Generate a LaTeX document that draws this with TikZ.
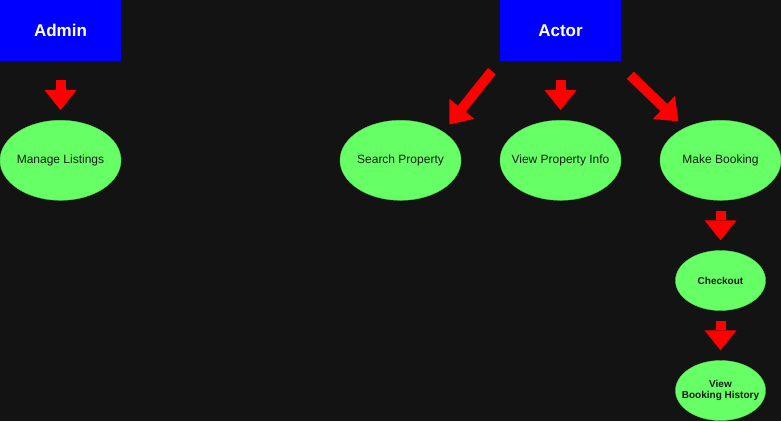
\documentclass[tikz,border=0pt]{standalone}
\usepackage{fontspec}
\setmainfont{Liberation Sans}
\usetikzlibrary{shapes.geometric,arrows.meta}
\definecolor{bg}{HTML}{131313}
\definecolor{boxblue}{HTML}{0000FF}
\definecolor{ellgreen}{HTML}{66FF66}
\definecolor{arrred}{HTML}{FF0000}
\definecolor{txtdark}{HTML}{1A1A1A}
\tikzset{
  actorbox/.style={rectangle, fill=boxblue, draw=none, minimum width=121pt, minimum height=61pt, inner sep=0pt,
    text=white, font=\fontsize{17}{20}\selectfont\bfseries},
  bigtext/.style={text=txtdark, font=\fontsize{12}{14}\selectfont, inner sep=0pt},
  smalltext/.style={text=txtdark, font=\fontsize{10}{11.7}\selectfont\bfseries, align=center, inner sep=0pt},
  bigcase/.style={ellipse, fill=ellgreen, draw=ellgreen!85!black, line width=0.4pt, minimum width=121pt, minimum height=80pt, inner sep=0pt,
    label={[bigtext]center:#1}},
  smallcase/.style={ellipse, fill=ellgreen, draw=ellgreen!85!black, line width=0.4pt, minimum width=90pt, minimum height=60pt, inner sep=0pt,
    label={[smalltext]center:#1}},
  blockarrow/.style={draw=arrred, line width=10pt, -{Triangle[width=32pt,length=20pt,line width=0pt]}}
}
\begin{document}
\begin{tikzpicture}[x=1pt,y=-1pt]
\fill[bg] (0,0) rectangle (781,421);
\useasboundingbox (0,0) rectangle (781,421);
\node[actorbox] (admin) at (60.5,30.5) {Admin};
\node[actorbox] (actor) at (560.5,30.5) {Actor};
\node[bigcase={Manage Listings}] (manage) at (60.5,160.3) {};
\node[bigcase={Search Property}] (search) at (400.5,160.3) {};
\node[bigcase={View Property Info}] (view) at (560.5,160.3) {};
\node[bigcase={Make Booking}] (book) at (720.5,160.3) {};
\node[smallcase={Checkout}] (checkout) at (720.5,280.5) {};
\node[smallcase={View\\Booking History}] (history) at (720.5,390.5) {};
\coordinate (rstart) at (630.3,75.3);
\coordinate (rend) at (678.3,121.3);
\draw[blockarrow, shorten <=19pt, shorten >=10pt] (admin.south) -- (manage.north);
\draw[blockarrow, shorten <=19pt, shorten >=10pt] (actor.south) -- (view.north);
\draw[blockarrow, shorten <=12.7pt, shorten >=9.5pt] (actor.south west) -- (search.north east);
\draw[blockarrow] (rstart) -- (rend);
\draw[blockarrow, shorten <=10pt, shorten >=10pt] (book.south) -- (checkout.north);
\draw[blockarrow, shorten <=10pt, shorten >=10pt] (checkout.south) -- (history.north);
\end{tikzpicture}
\end{document}
